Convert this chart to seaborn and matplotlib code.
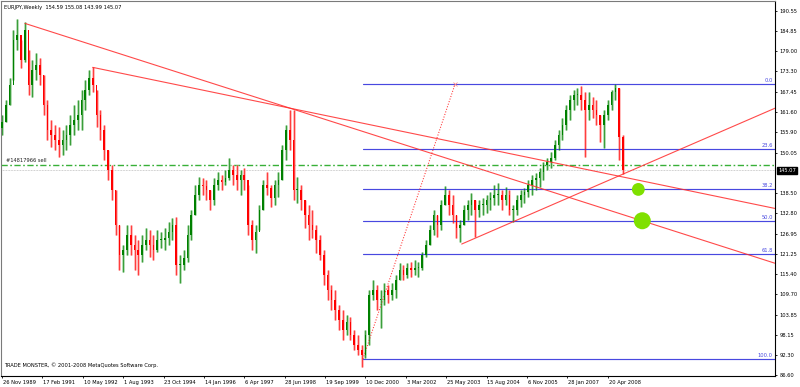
import numpy as np
import pandas as pd
import matplotlib
matplotlib.use("Agg")
import matplotlib.pyplot as plt
from matplotlib.transforms import ScaledTranslation
import seaborn as sns

# ---------------- data (EURJPY weekly, one candle per 6 weeks) ----------------
high = [160.8, 165.1, 171.4, 185.1, 188.2, 182.2, 187.4, 179.4, 176.5, 178.5,
        177.1, 172.2, 165.1, 159.4, 158.0, 157.4, 156.5, 158.0, 160.8, 163.7,
        165.1, 168.0, 170.8, 173.7, 174.5, 168.0, 162.3, 158.0, 150.8, 146.6,
        139.4, 129.4, 123.7, 129.4, 129.4, 126.6, 125.1, 126.6, 128.6, 128.0,
        126.6, 128.0, 127.4, 128.6, 130.3, 131.4, 131.7, 120.9, 122.3, 129.4,
        133.7, 140.8, 143.1, 142.8, 142.3, 139.4, 142.8, 144.6, 143.7, 145.1,
        148.5, 146.6, 146.6, 145.1, 145.7, 140.8, 130.9, 129.4, 135.1, 142.3,
        144.6, 140.8, 142.3, 144.6, 152.3, 158.0, 162.3, 162.3, 143.1, 140.8,
        136.6, 135.1, 133.7, 129.4, 126.6, 122.3, 116.6, 112.3, 110.9, 106.6,
        105.2, 103.7, 103.2, 99.4, 98.0, 95.2, 99.4, 110.9, 113.7, 112.3,
        110.9, 112.9, 112.3, 112.9, 115.1, 118.6, 118.0, 118.6, 118.9, 119.4,
        118.9, 121.7, 125.1, 129.4, 133.7, 132.3, 136.6, 140.6, 139.4, 138.0,
        132.3, 130.9, 135.1, 136.6, 138.6, 136.6, 136.6, 137.1, 138.0, 138.8,
        140.8, 141.4, 139.4, 140.3, 139.4, 135.1, 138.0, 139.4, 140.0, 142.3,
        143.7, 144.3, 145.7, 147.4, 148.5, 150.3, 153.7, 156.5, 160.0, 163.7,
        166.5, 168.0, 168.5, 169.1, 167.4, 167.4, 166.0, 165.1, 160.8, 162.3,
        165.1, 168.0, 169.7, 168.5, 155.08]
low = [155.1, 158.8, 163.7, 170.8, 179.4, 174.2, 176.0, 166.5, 166.0, 170.8,
       169.4, 160.8, 153.7, 151.7, 150.8, 148.8, 149.4, 150.8, 152.3, 155.1,
       156.5, 156.5, 162.3, 166.5, 167.4, 157.4, 153.7, 148.0, 142.3, 136.6,
       126.6, 116.6, 116.0, 120.9, 120.9, 116.6, 115.1, 118.9, 122.3, 120.3,
       119.4, 121.7, 122.9, 122.3, 123.7, 125.1, 115.1, 112.9, 116.6, 118.9,
       125.1, 132.3, 136.6, 138.0, 136.6, 133.7, 135.1, 139.4, 139.4, 140.8,
       142.3, 140.8, 139.4, 138.0, 139.4, 126.6, 122.3, 121.4, 128.0, 133.7,
       138.0, 134.6, 135.1, 137.4, 142.3, 148.0, 150.8, 136.6, 135.7, 133.7,
       128.6, 125.1, 125.7, 121.4, 119.4, 112.3, 108.0, 105.2, 102.3, 99.4,
       96.6, 98.0, 96.6, 93.7, 92.3, 88.9, 91.4, 95.2, 108.0, 105.2,
       100.0, 106.6, 107.2, 108.0, 108.6, 113.7, 113.7, 114.3, 114.6, 115.1,
       114.6, 116.6, 120.3, 123.7, 126.6, 126.0, 128.0, 135.1, 132.3, 130.0,
       125.7, 124.6, 129.4, 130.9, 132.3, 126.0, 131.7, 132.3, 132.8, 133.7,
       135.1, 135.1, 133.7, 135.1, 132.3, 130.3, 132.3, 134.6, 135.7, 137.4,
       138.0, 139.4, 140.3, 142.3, 145.1, 145.7, 148.0, 150.8, 153.7, 156.5,
       159.4, 162.3, 163.7, 162.3, 148.8, 159.4, 160.0, 158.0, 153.1, 151.4,
       159.4, 162.3, 165.1, 148.0, 143.99]
close = [158.8, 163.7, 169.4, 182.2, 183.7, 176.5, 185.1, 169.4, 173.7, 175.1,
         172.2, 163.7, 156.5, 155.1, 153.7, 152.3, 153.7, 155.1, 158.0, 159.4,
         160.8, 165.1, 168.0, 171.4, 169.4, 160.8, 156.5, 150.8, 145.1, 139.4,
         129.4, 120.9, 122.3, 126.6, 123.7, 122.3, 120.9, 123.7, 125.1, 123.7,
         122.3, 125.1, 125.1, 125.7, 127.4, 129.4, 118.0, 118.0, 120.0, 126.6,
         132.3, 138.0, 140.8, 140.6, 139.4, 136.6, 140.8, 142.3, 141.7, 142.8,
         145.1, 143.7, 142.3, 143.7, 142.3, 129.4, 125.1, 127.4, 133.7, 140.8,
         140.0, 137.1, 140.8, 142.3, 150.8, 156.5, 153.7, 139.4, 139.4, 136.6,
         132.3, 129.4, 128.0, 125.1, 120.9, 115.1, 110.9, 108.0, 105.2, 102.3,
         99.4, 101.7, 98.0, 95.2, 93.7, 92.3, 98.0, 109.4, 110.9, 108.0,
         108.0, 110.9, 109.4, 110.9, 113.7, 116.6, 115.1, 117.1, 116.6, 117.1,
         117.1, 120.9, 123.7, 128.0, 132.3, 129.4, 135.1, 138.0, 135.1, 132.3,
         128.6, 129.4, 133.7, 135.1, 136.6, 133.7, 135.1, 135.1, 136.6, 137.1,
         138.0, 138.0, 136.6, 138.0, 133.7, 133.7, 136.6, 138.0, 138.8, 140.8,
         142.3, 142.8, 144.6, 146.6, 147.4, 148.5, 152.3, 155.1, 158.0, 162.3,
         165.1, 166.5, 166.5, 165.1, 162.3, 163.7, 162.3, 160.8, 158.0, 160.8,
         163.7, 167.4, 168.5, 154.59, 145.07]
first_open = 157.0
candle_step_weeks = 6

date_labels = ["26 Nov 1989", "17 Feb 1991", "10 May 1992", "1 Aug 1993",
               "23 Oct 1994", "14 Jan 1996", "6 Apr 1997", "28 Jun 1998",
               "19 Sep 1999", "10 Dec 2000", "3 Mar 2002", "25 May 2003",
               "15 Aug 2004", "6 Nov 2005", "28 Jan 2007", "20 Apr 2008"]
date_label_step_weeks = 64
price_ticks = [190.55, 184.85, 179.00, 173.30, 167.45, 161.60, 155.90, 150.05,
               138.50, 132.80, 126.95, 121.25, 115.40, 109.70, 103.85, 98.15,
               92.30, 86.60]

fib_ratios = [0.0, 23.6, 38.2, 50.0, 61.8, 100.0]
fib_high, fib_low = 169.7, 91.2
fib_start_week, fib_end_week = 572, 718

trend_a_weeks, trend_a_prices = [36.4, 456.4], [187.0, 162.8]
trend_b_weeks, trend_b_prices = [143.7, 456.4], [174.45, 162.8]
trend_c_weeks, trend_c_prices = [728.5, 1011.0], [124.0, 146.07]

sell_price = 146.6
last_price = 145.07
circle_weeks = [1008.4, 1014.7]
circle_prices = [139.6, 130.65]
circle_sizes = [85, 150]

title = "EURJPY,Weekly  154.59 155.08 143.99 145.07"
footer = "TRADE MONSTER, \u00a9 2001-2008 MetaQuotes Software Corp."
order_label = "#14817966 sell"

# ---------------- drawing ----------------
sns.set_style("white")
plt.rcParams['font.family'] = ['DejaVu Sans']
FS = 3.7

fig = plt.figure(figsize=(8, 3.87), dpi=100)
ax = fig.add_axes([1 / 800, 11 / 387, 774 / 800, 375 / 387])
xmin, xmax = -1.585, 1225.0
ymin, ymax = 86.32, 193.4
ax.set_xlim(xmin, xmax)
ax.set_ylim(ymin, ymax)

c = np.array(close)
h = np.array(high)
l = np.array(low)
o = np.r_[first_open, c[:-1]]
weeks = np.arange(len(c)) * candle_step_weeks
up = c >= o
wick_light = np.where(up, '#9fd29f', '#ffa8a8')
strong = np.where(up, '#008000', '#ff0000')
ax.vlines(weeks, l, h, colors=wick_light, lw=1.8, zorder=2)
ax.vlines(weeks, l, h, colors=strong, lw=0.45, zorder=2.5)
body_h = np.maximum(np.abs(c - o), 0.4)
ax.bar(weeks, body_h, bottom=np.minimum(o, c), width=2.6, color=strong,
       linewidth=0, zorder=3)

# horizontal order / price lines
ax.axhline(sell_price, color='#38b038', lw=1.0,
           dashes=(4.5, 1.8, 1.2, 1.8), zorder=1)
ax.axhline(last_price, color='#c4c4c4', lw=0.7, dashes=(0.8, 0.8), zorder=1)
ax.text(4 / 0.631, sell_price + 0.5, order_label, fontsize=FS, color='#202020',
        ha='left', va='bottom')

# Fibonacci retracement
fib_color = '#4848e0'
for r in fib_ratios:
    lvl = fib_high - (fib_high - fib_low) * r / 100
    sns.lineplot(x=[fib_start_week, xmax], y=[lvl, lvl], ax=ax, color=fib_color,
                 lw=0.85, zorder=2)
    ax.text(xmax - 3.5, lvl + 0.35, f"{r:.1f}", fontsize=FS, color=fib_color,
            ha='right', va='bottom')
ax.plot([fib_start_week, fib_end_week], [fib_low, fib_high], color='#ff3030',
        lw=0.75, dashes=(1.0, 1.6), zorder=2)
ax.plot([fib_end_week], [fib_high], marker='x', ms=2.5, mew=0.5,
        color='#ff8080', zorder=2)

# trend lines (rays extended to the right edge)
for tw, tp in [(trend_a_weeks, trend_a_prices), (trend_b_weeks, trend_b_prices),
               (trend_c_weeks, trend_c_prices)]:
    slope = (tp[1] - tp[0]) / (tw[1] - tw[0])
    end_p = tp[0] + slope * (xmax - tw[0])
    sns.lineplot(x=[tw[0], xmax], y=[tp[0], end_p], ax=ax, color='#ff2a2a',
                 lw=0.8, alpha=0.85, zorder=4)

# green circles
circ = pd.DataFrame({'week': circle_weeks, 'price': circle_prices,
                     'size': circle_sizes})
for _, row in circ.iterrows():
    sns.scatterplot(x=[row['week']], y=[row['price']], s=row['size'],
                    color='#7fe000', edgecolor='none', ax=ax, zorder=5)

# axes styling
for side in ['left', 'top']:
    ax.spines[side].set_color('#7a7a7a')
    ax.spines[side].set_linewidth(0.8)
for side in ['right', 'bottom']:
    ax.spines[side].set_color('#000000')
    ax.spines[side].set_linewidth(0.8)

ax.yaxis.tick_right()
ax.set_yticks(price_ticks)
ax.set_yticklabels([f"{v:.2f}" for v in price_ticks])
ax.tick_params(axis='y', which='both', right=True, left=False, labelright=True,
               labelleft=False, direction='out', length=1.6, width=0.6,
               pad=1.6, labelsize=FS, colors='black')
ax.set_xticks(np.arange(len(date_labels)) * date_label_step_weeks)
ax.set_xticklabels(date_labels)
ax.tick_params(axis='x', which='both', bottom=True, direction='out', length=1.6,
               width=0.6, pad=1.0, labelsize=FS, colors='black')
for lab in ax.get_xticklabels():
    lab.set_ha('left')
    lab.set_transform(lab.get_transform() +
                      ScaledTranslation(0.8 / 100, 0, fig.dpi_scale_trans))
ax.set_xlabel('')
ax.set_ylabel('')
ax.grid(False)

ax.annotate(f"{last_price:.2f}", xy=(1, last_price),
            xycoords=('axes fraction', 'data'), xytext=(2.3, 0),
            textcoords='offset points', ha='left', va='center', color='white',
            fontsize=FS, annotation_clip=False,
            bbox=dict(boxstyle='square,pad=0.18', fc='black', ec='black'))

fig.text(4 / 800, 1 - 7.5 / 387, title, fontsize=FS, ha='left', va='center',
         color='black')
fig.text(4 / 800, 1 - 365 / 387, footer, fontsize=FS, ha='left', va='center',
         color='black')

fig.savefig('out.png', dpi=100, facecolor='white')
